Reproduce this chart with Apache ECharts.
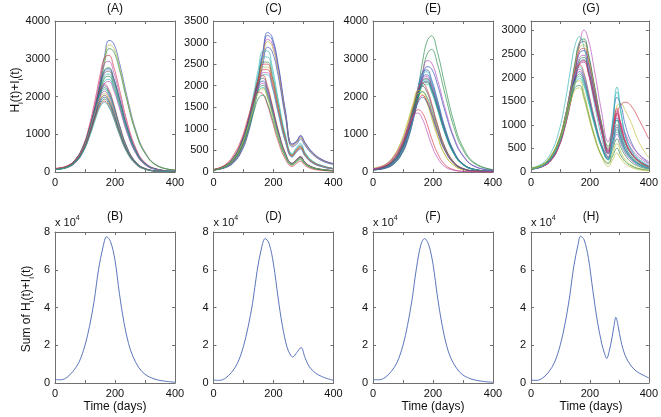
<!DOCTYPE html>
<html><head><meta charset="utf-8">
<script src="https://cdn.jsdelivr.net/npm/echarts@6/dist/echarts.min.js"></script>
<style>html,body{margin:0;padding:0;background:#fff}#c{width:661px;height:417px}</style>
</head><body><div id="c"></div>
<script>
// ---------- DATA ----------
const daysA = [0, 40, 70, 95, 115, 135, 150, 165, 180, 195, 215, 240, 270, 300, 340, 400];
const linesA = [
[70,123,282,598,1056,1760,2394,3062,3485,3414,2886,2006,1091,528,176,53],
[68,119,272,578,1020,1700,2312,2958,3366,3298,2788,1938,1054,510,170,51],
[66,116,264,561,990,1650,2244,2871,3267,3201,2706,1881,1023,495,165,50],
[94,156,343,718,1248,1966,2558,3026,3089,2808,2184,1342,624,250,78,19],
[89,148,326,681,1184,1865,2427,2871,2930,2664,2072,1273,592,237,74,18],
[84,140,307,642,1116,1758,2288,2706,2762,2511,1953,1200,558,223,70,17],
[83,138,304,635,1104,1739,2263,2677,2732,2484,1932,1187,552,221,69,17],
[81,135,297,621,1080,1701,2214,2619,2673,2430,1890,1161,540,216,68,16],
[79,131,288,603,1048,1651,2148,2541,2594,2358,1834,1127,524,210,66,16],
[77,128,282,589,1024,1613,2099,2483,2534,2304,1792,1101,512,205,64,15],
[74,124,273,570,992,1562,2034,2406,2455,2232,1736,1066,496,198,62,15],
[73,121,266,557,968,1525,1984,2347,2396,2178,1694,1041,484,194,61,15],
[83,153,354,708,1180,1770,2171,2336,2171,1817,1251,661,260,94,28,9],
[81,150,347,693,1155,1733,2125,2287,2125,1779,1224,647,254,92,28,9],
[79,147,339,678,1130,1695,2079,2237,2079,1740,1198,633,249,90,27,9],
[77,144,332,663,1105,1658,2033,2188,2033,1702,1171,619,243,88,27,9],
[76,140,324,648,1080,1620,1987,2138,1987,1663,1145,605,238,86,26,9],
[74,137,315,630,1050,1575,1932,2079,1932,1617,1113,588,231,84,25,8],
[72,133,308,615,1025,1538,1886,2030,1886,1579,1087,574,226,82,25,8],
[70,130,300,600,1000,1500,1840,1980,1840,1540,1060,560,220,80,24,8],
[68,127,293,585,975,1463,1794,1931,1794,1502,1034,546,215,78,23,8],
[95,160,330,620,980,1450,1760,1880,1740,1450,990,520,200,72,22,7],
[65,121,279,558,930,1395,1711,1841,1711,1432,986,521,205,74,22,7]
];
const daysC = [0, 40, 70, 95, 115, 135, 150, 165, 180, 195, 215, 240, 262, 277, 290, 305, 330, 365, 400];
const linesC = [
[49,114,262,556,981,1635,2224,2812,3237,3139,2518,1406,654,719,850,687,458,278,196],
[48,112,256,544,960,1600,2176,2752,3168,3072,2464,1376,640,704,832,672,448,272,192],
[47,109,249,529,933,1555,2115,2675,3079,2986,2395,1337,622,684,809,653,435,264,187],
[46,107,244,519,915,1525,2074,2623,3020,2928,2349,1312,610,671,793,641,427,259,183],
[44,102,234,496,876,1460,1986,2511,2891,2803,2248,1256,584,642,759,613,409,248,175],
[57,143,343,715,1201,1859,2402,2803,2803,2460,1716,858,429,572,658,458,257,143,86],
[54,136,326,680,1142,1768,2285,2666,2666,2339,1632,816,408,544,626,435,245,136,82],
[52,130,312,650,1092,1690,2184,2548,2548,2236,1560,780,390,520,598,416,234,130,78],
[51,128,306,638,1071,1658,2142,2499,2499,2193,1530,765,383,510,587,408,230,128,77],
[50,124,298,620,1042,1612,2083,2430,2430,2133,1488,744,372,496,570,397,223,124,74],
[48,121,290,605,1016,1573,2033,2372,2372,2081,1452,726,363,484,557,387,218,121,73],
[47,118,282,588,987,1528,1974,2303,2303,2021,1410,705,353,470,541,376,212,118,71],
[46,115,276,575,966,1495,1932,2254,2254,1978,1380,690,345,460,529,368,207,115,69],
[57,158,384,746,1198,1763,2147,2237,1989,1582,994,429,203,294,362,226,113,57,34],
[55,154,374,726,1166,1716,2090,2178,1936,1540,968,418,198,286,352,220,110,55,33],
[53,149,362,703,1129,1661,2024,2109,1874,1491,937,405,192,277,341,213,107,53,32],
[52,146,354,686,1102,1622,1976,2059,1830,1456,915,395,187,270,333,208,104,52,31],
[51,142,345,670,1076,1583,1929,2010,1786,1421,893,386,183,264,325,203,102,51,30],
[50,139,337,653,1049,1544,1881,1960,1742,1386,871,376,178,257,317,198,99,50,30],
[49,137,332,644,1034,1521,1853,1931,1716,1365,858,371,176,254,312,195,98,49,29],
[55,175,430,800,1250,1680,1850,1800,1550,1200,720,290,130,200,250,150,70,35,20],
[45,126,306,594,954,1404,1710,1782,1584,1260,792,342,162,234,288,180,90,45,27]
];
const daysE = [0, 40, 70, 95, 115, 135, 150, 165, 180, 195, 215, 240, 270, 300, 340, 400];
const linesE = [
[58,109,237,510,910,1565,2184,2912,3458,3604,3167,2293,1310,655,237,62],
[52,98,213,459,820,1410,1968,2624,3116,3247,2854,2066,1181,590,213,56],
[60,104,238,507,894,1490,2026,2593,2950,2891,2444,1699,924,447,149,45],
[56,99,226,479,846,1410,1918,2453,2792,2735,2312,1607,874,423,141,42],
[82,137,300,628,1092,1720,2239,2648,2703,2457,1911,1174,546,218,68,16],
[80,134,295,616,1072,1688,2198,2600,2653,2412,1876,1152,536,214,67,16],
[78,130,286,598,1040,1638,2132,2522,2574,2340,1820,1118,520,208,65,16],
[77,128,281,587,1020,1607,2091,2474,2525,2295,1785,1097,510,204,64,15],
[75,125,275,575,1000,1575,2050,2425,2475,2250,1750,1075,500,200,63,15],
[74,124,272,568,988,1556,2025,2396,2445,2223,1729,1062,494,198,62,15],
[73,122,267,559,972,1531,1993,2357,2406,2187,1701,1045,486,194,61,15],
[72,120,264,552,960,1512,1968,2328,2376,2160,1680,1032,480,192,60,14],
[71,118,259,541,940,1481,1927,2280,2327,2115,1645,1011,470,188,59,14],
[83,155,357,714,1190,1785,2190,2356,2190,1833,1261,666,262,95,29,10],
[81,150,345,690,1150,1725,2116,2277,2116,1771,1219,644,253,92,28,9],
[99,198,440,836,1320,1848,2156,2134,1892,1496,968,462,176,66,22,7],
[95,191,424,806,1272,1781,2078,2056,1823,1442,933,445,170,64,21,6],
[75,140,323,645,1075,1613,1978,2129,1978,1656,1140,602,237,86,26,9],
[72,133,308,615,1025,1538,1886,2030,1886,1579,1087,574,226,82,25,8],
[70,130,300,600,1000,1500,1840,1980,1840,1540,1060,560,220,80,24,8],
[80,170,380,700,1080,1480,1650,1560,1280,900,500,190,60,20,6,2],
[85,185,410,760,1150,1500,1560,1400,1080,720,380,140,45,15,5,2]
];
const daysG = [0, 40, 70, 95, 115, 135, 150, 165, 180, 195, 215, 240, 262, 277, 292, 305, 320, 340, 365, 400];
const linesG = [
[60,120,271,572,993,1625,2167,2709,3010,2799,2167,1264,640,950,1250,1000,760,500,320,170],
[87,189,435,870,1450,2204,2697,2871,2639,2146,1450,725,300,1100,1800,1300,800,480,280,140],
[71,143,314,656,1140,1796,2337,2765,2822,2508,1853,1026,550,850,1100,850,600,380,220,110],
[70,140,308,644,1120,1764,2296,2716,2772,2464,1820,1008,500,780,1000,760,530,330,190,100],
[68,136,299,626,1088,1714,2230,2638,2693,2394,1768,979,480,950,1400,1450,1300,1050,650,300],
[66,133,292,610,1060,1670,2173,2571,2624,2332,1723,954,460,800,1250,1420,1480,1400,1130,700],
[65,130,286,598,1040,1638,2132,2522,2574,2288,1690,936,450,1000,1580,1420,1000,640,380,190],
[63,125,275,575,1000,1575,2050,2425,2475,2200,1625,900,430,850,1300,1000,680,420,250,120],
[61,123,270,564,980,1544,2009,2377,2426,2156,1593,882,400,650,900,680,460,290,170,80],
[60,120,264,552,960,1512,1968,2328,2376,2112,1560,864,390,750,1150,900,630,400,240,120],
[59,118,259,541,940,1481,1927,2280,2327,2068,1528,846,380,780,1200,1050,820,580,380,220],
[60,119,262,547,952,1499,1952,2309,2356,2094,1547,857,420,800,1250,950,650,400,240,110],
[69,150,345,690,1150,1748,2139,2277,2093,1702,1150,575,330,850,1350,1000,650,400,230,110],
[68,146,338,675,1125,1710,2093,2228,2048,1665,1125,563,320,1000,1700,1250,780,460,260,120],
[66,143,330,660,1100,1672,2046,2178,2002,1628,1100,550,300,550,800,600,400,250,140,70],
[65,140,323,645,1075,1634,2000,2129,1957,1591,1075,538,280,620,950,720,480,300,170,80],
[63,137,315,630,1050,1596,1953,2079,1911,1554,1050,525,270,480,700,520,350,210,120,60],
[62,133,308,615,1025,1558,1907,2030,1866,1517,1025,513,260,560,850,640,430,270,150,70],
[60,130,300,600,1000,1520,1860,1980,1820,1480,1000,500,250,700,1100,820,540,330,180,80],
[78,166,371,702,1112,1619,1892,1931,1677,1287,800,351,200,400,600,420,260,150,80,40],
[74,157,352,666,1055,1536,1795,1832,1591,1221,759,333,180,340,500,350,220,130,70,35],
[72,153,342,648,1026,1494,1746,1782,1548,1188,738,324,120,260,400,280,170,100,50,25]
];
const daysB = [0,20,40,60,80,100,115,130,145,160,172,185,200,215,230,245,260,280,300,330,360,400];
const sumB = [1800,1700,3000,6200,11000,20000,30000,43000,60000,72000,77500,75000,65000,47000,32000,21000,14000,8000,4600,2200,1100,400];
const daysD = [0,20,40,60,80,100,115,130,145,160,172,185,200,215,230,245,257,264,278,292,305,320,340,360,380,400];
const sumD = [1500,1400,2600,5600,10500,19500,29500,42000,59000,71500,76500,74000,63000,45500,30000,19000,14800,13800,16200,18800,13500,8500,5300,3500,2300,1400];
const daysF = [0,20,40,60,80,100,115,130,145,160,172,185,200,215,230,245,260,280,300,330,360,400];
const sumF = [1800,1700,2900,6000,10800,20000,30500,44000,61000,73500,76500,73500,63000,45500,31000,20000,13000,7500,4200,2000,1000,350];
const daysH = [0,20,40,60,80,100,115,130,145,160,168,180,195,210,225,240,250,257,265,275,282,288,296,305,320,340,360,380,400];
const sumH = [1500,1400,2700,5800,11000,20500,31000,44500,61500,73500,77700,76000,66000,49000,33000,21000,15500,13000,16500,24000,30500,34800,30000,22500,14500,9000,6000,4200,2700];
const panelTitles = ['(A)','(C)','(E)','(G)','(B)','(D)','(F)','(H)'];
const xTicks = [0, 200, 400];

// ---------- STYLE ----------
const PAL = {b:'#3550b8', g:'#2a8c48', r:'#d63a4a', c:'#35b5b5', m:'#b84ab8', y:'#bdbd3a', k:'#555555'};
const colA = ['b','y','g','r','m','g','b','k','c','g','c','m','r','b','g','c','m','y','k','b','g','r','c'];
const colC = ['b','b','m','y','b','c','c','g','r','y','r','m','c','r','k','b','m','g','c','y','r','g'];
const colE = ['g','g','m','b','b','c','b','m','k','c','b','g','c','r','k','y','y','g','r','b','r','m'];
const colG = ['m','c','g','k','y','r','b','m','g','b','m','r','r','c','m','b','g','c','c','y','g','y'];
const FONT = '"Liberation Sans", Arial, Helvetica, sans-serif';
const AX = '#707070';
const lefts = [55, 213.5, 373, 531];
const tops = [21, 232];
const W = 120, H = 151;

const topPanels = [
  {days: daysA, lines: linesA, cols: colA, ymax: 4000, yint: 1000},
  {days: daysC, lines: linesC, cols: colC, ymax: 3500, yint: 500},
  {days: daysE, lines: linesE, cols: colE, ymax: 4000, yint: 1000},
  {days: daysG, lines: linesG, cols: colG, ymax: 3200, yint: 500}
];
const botPanels = [
  {days: daysB, vals: sumB}, {days: daysD, vals: sumD}, {days: daysF, vals: sumF}, {days: daysH, vals: sumH}
];

const grids = [], xAxes = [], yAxes = [], series = [], graphics = [];
function axisBase(i, pos) {
  return {
    gridIndex: i, type: 'value', position: pos,
    axisLine: {show: true, onZero: false, lineStyle: {color: AX, width: 1}},
    axisTick: {show: true, inside: true, length: 3, lineStyle: {color: AX, width: 1}},
    splitLine: {show: false},
    axisLabel: {show: false}
  };
}
function addGrid(i, left, top, ymax, yint, yfmt) {
  grids.push({left: left, top: top, width: W, height: H, containLabel: false});
  const xb = axisBase(i, 'bottom');
  Object.assign(xb, {min: 0, max: 400, interval: 100,
    axisLabel: {show: true, margin: 5, fontSize: 11, color: '#111', fontFamily: FONT,
      formatter: v => (xTicks.indexOf(v) >= 0 ? String(v) : '')}});
  const xt = axisBase(i, 'top');
  Object.assign(xt, {min: 0, max: 400, interval: 100});
  const yl = axisBase(i, 'left');
  Object.assign(yl, {min: 0, max: ymax, interval: yint,
    axisLabel: {show: true, margin: 5, fontSize: 11, color: '#111', fontFamily: FONT,
      showMaxLabel: (ymax % yint === 0), formatter: yfmt}});
  const yr = axisBase(i, 'right');
  Object.assign(yr, {min: 0, max: ymax, interval: yint});
  xAxes.push(xb, xt); yAxes.push(yl, yr);
}

topPanels.forEach((p, i) => {
  addGrid(i, lefts[i], tops[0], p.ymax, p.yint, v => String(v));
  p.lines.forEach((vals, k) => {
    series.push({type: 'line', xAxisIndex: 2 * i, yAxisIndex: 2 * i,
      data: p.days.map((d, j) => [d, vals[j]]),
      showSymbol: false, smooth: 0.45, silent: true,
      lineStyle: {width: 0.75, opacity: 0.9, color: PAL[p.cols[k % p.cols.length]]}});
  });
});
botPanels.forEach((p, i) => {
  const gi = 4 + i;
  addGrid(gi, lefts[i], tops[1], 80000, 20000, v => String(v / 10000));
  series.push({type: 'line', xAxisIndex: 2 * gi, yAxisIndex: 2 * gi,
    data: p.days.map((d, j) => [d, p.vals[j]]),
    showSymbol: false, smooth: 0.35, silent: true,
    lineStyle: {width: 0.9, color: '#4a66b4'}});
});

// texts
panelTitles.forEach((t, i) => {
  const col = i % 4, row = Math.floor(i / 4);
  graphics.push({type: 'text', x: lefts[col] + W / 2, y: row === 0 ? 9 : 217,
    style: {text: t, font: '12px ' + FONT, fill: '#111', textAlign: 'center', textVerticalAlign: 'middle'}});
  if (row === 1) {
    graphics.push({type: 'text', x: lefts[col], y: 223,
      style: {text: '{a|x 10}{p|4}', textAlign: 'left', textVerticalAlign: 'middle',
        rich: {a: {fontSize: 11, fontFamily: FONT, fill: '#111', lineHeight: 16, verticalAlign: 'middle'},
               p: {fontSize: 7, fontFamily: FONT, fill: '#111', verticalAlign: 'top', lineHeight: 16}}}});
  }
});
[0, 2, 3].forEach(col => {
  graphics.push({type: 'text', x: lefts[col] + W / 2, y: 407,
    style: {text: 'Time (days)', font: '12px ' + FONT, fill: '#111', textAlign: 'center', textVerticalAlign: 'middle'}});
});
const subRich = {
  a: {fontSize: 12, fontFamily: FONT, fill: '#111', lineHeight: 18, verticalAlign: 'middle'},
  s: {fontSize: 8, fontFamily: FONT, fill: '#111', lineHeight: 18, verticalAlign: 'bottom'}
};
graphics.push({type: 'text', x: 16, y: 90, rotation: Math.PI / 2,
  style: {text: '{a|H}{s|i}{a|(t)+I}{s|i}{a|(t)}', rich: subRich, textAlign: 'center', textVerticalAlign: 'middle'}});
graphics.push({type: 'text', x: 27, y: 309, rotation: Math.PI / 2,
  style: {text: '{a|Sum of H}{s|i}{a|(t)+I}{s|i}{a|(t)}', rich: subRich, textAlign: 'center', textVerticalAlign: 'middle'}});

const chart = echarts.init(document.getElementById('c'), null, {renderer: 'canvas'});
chart.setOption({
  animation: false,
  backgroundColor: '#ffffff',
  grid: grids, xAxis: xAxes, yAxis: yAxes, series: series,
  graphic: {elements: graphics}
});
</script>
</body></html>
